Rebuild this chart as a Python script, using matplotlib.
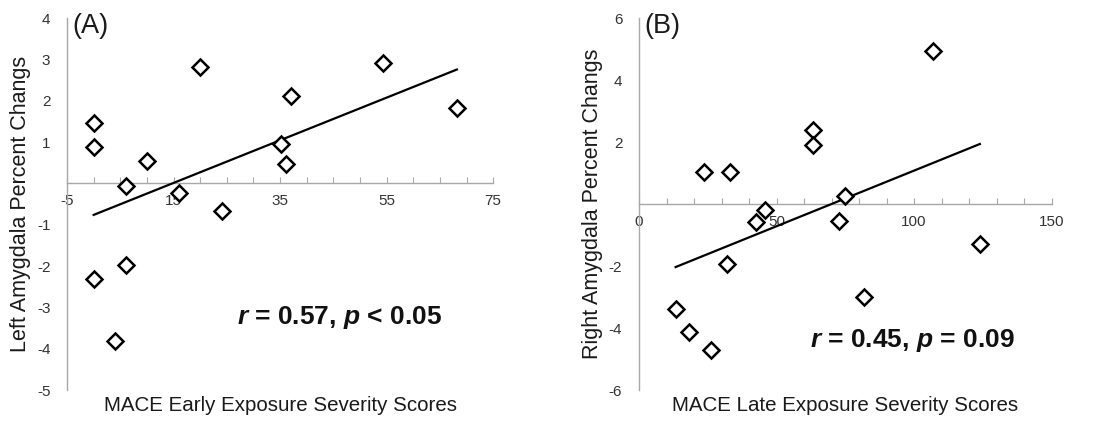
import numpy as np
import matplotlib
matplotlib.use('Agg')
import matplotlib.pyplot as plt

plt.rcParams['font.family'] = 'Liberation Sans'
plt.rcParams['mathtext.fontset'] = 'custom'
plt.rcParams['mathtext.it'] = 'Liberation Sans:italic:bold'
plt.rcParams['mathtext.rm'] = 'Liberation Sans:bold'

# (A) early exposure vs left amygdala
early_x = [0, 0, 0, 6, 10, 6, 4, 16, 20, 24, 35.2, 36.2, 37, 54.3, 68.2]
left_y = [1.45, 0.89, -2.31, -0.06, 0.55, -1.98, -3.82, -0.24, 2.81, -0.66,
          0.95, 0.47, 2.12, 2.91, 1.82]
early_ticks = [-5, 0, 5, 10, 15, 20, 25, 30, 35, 40, 45, 50, 55, 60, 65, 70, 75]
early_tick_labels = ['-5', '', '', '', '15', '', '', '', '35', '', '', '', '55', '', '', '', '75']
left_yticks = [4, 3, 2, 1, -1, -2, -3, -4, -5]

# (B) late exposure vs right amygdala
late_x = [23.6, 33.0, 63.4, 63.4, 106.7, 74.8, 72.7, 45.9, 42.7, 32.0, 13.3,
          18.1, 26.1, 81.9, 123.9]
right_y = [1.04, 1.04, 2.39, 1.91, 4.94, 0.27, -0.54, -0.19, -0.59, -1.94,
           -3.40, -4.12, -4.71, -2.99, -1.29]
late_ticks = list(range(0, 151, 10))
late_tick_labels = ['0', '', '', '', '', '50', '', '', '', '', '100', '', '', '', '', '150']
right_yticks = [6, 4, 2, -2, -4, -6]

fig = plt.figure(figsize=(11.01, 4.22), dpi=100)
axA = fig.add_axes([0.0609, 0.0758, 0.387, 0.8815])
axB = fig.add_axes([0.5804, 0.0758, 0.3748, 0.8815])

panels = [
    (axA, early_x, left_y, early_ticks, early_tick_labels, left_yticks, (-5, 75), (-5, 4),
     'Left Amygdala Percent Changs', 'MACE Early Exposure Severity Scores', '(A)',
     r'$r$ = 0.57, $p$ < 0.05', (46.2, -3.24)),
    (axB, late_x, right_y, late_ticks, late_tick_labels, right_yticks, (0, 150), (-6, 6),
     'Right Amygdala Percent Changs', 'MACE Late Exposure Severity Scores', '(B)',
     r'$r$ = 0.45, $p$ = 0.09', (99.2, -4.39)),
]

for ax, xs, ys, xt, xtl, yt, xlim, ylim, ylab, xlab, tag, stat, statpos in panels:
    xs = np.array(xs)
    ys = np.array(ys)
    ax.set_xlim(*xlim)
    ax.set_ylim(*ylim)
    for s in ['top', 'right']:
        ax.spines[s].set_visible(False)
    ax.spines['bottom'].set_position(('data', 0))
    ax.spines['bottom'].set_color('#a8a8a8')
    ax.spines['left'].set_color('#a8a8a8')
    ax.spines['bottom'].set_linewidth(1.0)
    ax.spines['left'].set_linewidth(1.0)

    ax.set_xticks(xt)
    ax.set_xticklabels(xtl)
    ax.set_yticks(yt)
    ax.set_yticklabels([str(v) for v in yt])
    ax.tick_params(axis='x', direction='in', length=4, color='#a8a8a8', pad=8,
                   labelsize=11, labelcolor='#333333')
    ax.tick_params(axis='y', length=0, pad=12, labelsize=11, labelcolor='#333333')

    # trend line
    k, b = np.polyfit(xs, ys, 1)
    fx = np.array([xs.min(), xs.max()])
    ax.plot(fx, k * fx + b, color='black', linewidth=1.6, zorder=3)

    ax.plot(xs, ys, linestyle='none', marker='D', markersize=8.2,
            markerfacecolor='white', markeredgecolor='black',
            markeredgewidth=1.8, zorder=4, clip_on=False)

    ax.set_ylabel(ylab, fontsize=15.5, color='#1a1a1a', labelpad=4)
    ax.set_xlabel(xlab, fontsize=14.8, color='#1a1a1a', va='center')
    ax.xaxis.set_label_coords(0.5, -0.042)

    ax.text(0.012, 0.978, tag, transform=ax.transAxes, fontsize=19.5,
            ha='left', va='center', color='#1a1a1a')
    ax.text(statpos[0], statpos[1], stat, fontsize=19, fontweight='bold',
            ha='center', va='center', color='#111111')

plt.savefig('out.png', dpi=100)
